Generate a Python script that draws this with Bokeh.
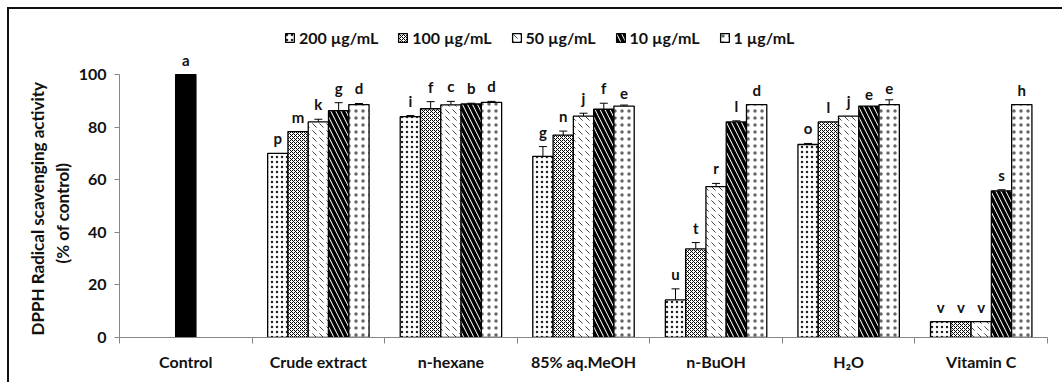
from bokeh.plotting import figure
from bokeh.layouts import column, row
from bokeh.models import Range1d, FixedTicker, Whisker, TeeHead, ColumnDataSource, Title, Div
from bokeh.core.properties import value
from bokeh.embed import file_html
from bokeh.resources import INLINE

# ---------------- data ----------------
categories = ["Control", "Crude extract", "n-hexane", "85% aq.MeOH", "n-BuOH", "H\u2082O", "Vitamin C"]
series = ["200 \u00b5g/mL", "100 \u00b5g/mL", "50 \u00b5g/mL", "10 \u00b5g/mL", "1 \u00b5g/mL"]

control_value = [100.0]
control_err = [0.0]
control_letter = ["a"]

# groups: Crude extract, n-hexane, 85% aq.MeOH, n-BuOH, H2O, Vitamin C
v200 = [70.0, 84.0, 68.9, 14.3, 73.4, 6.0]
e200 = [0.0, 0.4, 3.7, 4.2, 0.4, 0.0]
l200 = ["p", "i", "g", "u", "o", "v"]

v100 = [78.3, 87.0, 77.0, 33.7, 82.0, 6.0]
e100 = [0.0, 2.7, 1.5, 2.4, 0.0, 0.0]
l100 = ["m", "f", "n", "t", "l", "v"]

v50 = [82.0, 88.5, 84.2, 57.4, 84.2, 6.0]
e50 = [1.0, 1.3, 1.1, 1.2, 0.0, 0.0]
l50 = ["k", "c", "j", "r", "j", "v"]

v10 = [86.3, 88.8, 86.8, 82.0, 88.0, 55.8]
e10 = [3.0, 0.3, 2.3, 0.4, 0.0, 0.4]
l10 = ["g", "b", "f", "l", "e", "s"]

v1 = [88.6, 89.4, 88.0, 88.6, 88.6, 88.6]
e1 = [0.4, 0.4, 0.4, 0.0, 1.8, 0.0]
l1 = ["d", "d", "e", "d", "e", "h"]

y_ticks = [0, 20, 40, 60, 80, 100]
y_title = ["DPPH Radical scavenging activity", "(% of control)"]

values = [v200, v100, v50, v10, v1]
errors = [e200, e100, e50, e10, e1]
letters = [l200, l100, l50, l10, l1]

styles = [
    dict(hatch_pattern="dot", hatch_scale=5, hatch_weight=0.4, hatch_color="#222222"),
    dict(hatch_pattern="diagonal_cross", hatch_scale=4, hatch_weight=1, hatch_color="black"),
    dict(hatch_pattern="left_diagonal_dash", hatch_scale=7, hatch_weight=1, hatch_color="#444444"),
    dict(hatch_pattern="left_diagonal_line", hatch_scale=10, hatch_weight=3.5, hatch_color="black"),
    dict(hatch_pattern="dot", hatch_scale=7, hatch_weight=0.3, hatch_color="#666666"),
]

FONT = "Lato"
BW = 0.153
n_cat = len(categories)

p = figure(width=1053, height=373, output_backend="svg", toolbar_location=None,
           x_range=Range1d(0, n_cat), y_range=Range1d(0, 119.8),
           min_border_left=110, min_border_right=15, min_border_top=13, min_border_bottom=45,
           margin=0)
p.outline_line_color = None
p.xgrid.visible = False
p.ygrid.visible = False
p.background_fill_color = "white"

# control bar
csrc = ColumnDataSource(dict(x=[0.5], top=control_value, up=[a + b for a, b in zip(control_value, control_err)],
                             letter=control_letter))
p.vbar(x="x", top="top", width=BW, source=csrc, fill_color="black", line_color="black", line_width=1.3)
p.text(x="x", y="up", text="letter", source=csrc, text_font=value(FONT), text_font_style="bold",
       text_font_size="15px", text_align="center", text_baseline="bottom", y_offset=-6, text_color="#111111")

for k in range(5):
    off = (k - 2) * BW
    xs = [i + 1.5 + off for i in range(len(values[k]))]
    ups = [a + b for a, b in zip(values[k], errors[k])]
    src = ColumnDataSource(dict(x=xs, top=values[k], up=ups, letter=letters[k]))
    p.vbar(x="x", top="top", width=BW, source=src, fill_color="white", line_color="black",
           line_width=1.3, legend_label=series[k], **styles[k])
    idx = [i for i, e in enumerate(errors[k]) if e > 0]
    wsrc = ColumnDataSource(dict(x=[xs[i] for i in idx], lo=[values[k][i] for i in idx],
                                 up=[ups[i] for i in idx]))
    p.add_layout(Whisker(source=wsrc, base="x", upper="up", lower="lo", dimension="height",
                         line_color="black", line_width=1,
                         upper_head=TeeHead(size=8, line_color="black", line_width=1),
                         lower_head=None))
    p.text(x="x", y="up", text="letter", source=src, text_font=value(FONT), text_font_style="bold",
           text_font_size="15px", text_align="center", text_baseline="bottom", y_offset=-6,
           text_color="#111111")

# y axis
ya = p.yaxis[0]
ya.bounds = (0, 100)
ya.ticker = FixedTicker(ticks=y_ticks)
ya.axis_line_color = "#868686"
ya.major_tick_line_color = "#868686"
ya.major_tick_out = 5
ya.major_tick_in = 0
ya.minor_tick_line_color = None
ya.major_label_text_font = FONT
ya.major_label_text_font_style = "bold"
ya.major_label_text_font_size = "16px"
ya.major_label_text_color = "#111111"
ya.major_label_standoff = 8

# y axis title (two lines, as left-side titles)
p.add_layout(Title(text=y_title[1], align="left", offset=74, standoff=5, text_font=FONT,
                   text_font_style="bold", text_font_size="17px", text_color="#111111"), "left")
p.add_layout(Title(text=y_title[0], align="left", offset=2, standoff=0, text_font=FONT,
                   text_font_style="bold", text_font_size="17px", text_color="#111111"), "left")

# x axis
xa = p.xaxis[0]
xa.bounds = (0, n_cat)
centers = [i + 0.5 for i in range(n_cat)]
xa.ticker = FixedTicker(ticks=centers, minor_ticks=list(range(n_cat + 1)))
xa.major_label_overrides = {c: lab for c, lab in zip(centers, categories)}
xa.axis_line_color = "#868686"
xa.major_tick_out = 0
xa.major_tick_in = 0
xa.major_tick_line_color = None
xa.minor_tick_line_color = "#868686"
xa.minor_tick_out = 6
xa.minor_tick_in = 0
xa.major_label_text_font = FONT
xa.major_label_text_font_style = "bold"
xa.major_label_text_font_size = "16px"
xa.major_label_text_color = "#111111"
xa.major_label_standoff = 8

# legend
lg = p.legend[0]
lg.orientation = "horizontal"
lg.location = (165, 290)
lg.border_line_color = None
lg.background_fill_alpha = 0
lg.padding = 0
lg.margin = 0
lg.spacing = 19
lg.label_standoff = 4
lg.glyph_width = 11
lg.glyph_height = 11
lg.label_text_font = FONT
lg.label_text_font_style = "bold"
lg.label_text_font_size = "16px"
lg.label_text_color = "#111111"

# outer chart border along the left and top edges (offsets carried by inner margins)
top_edge = Div(text="", width=1055, height=2, margin=(7, 0, 0, 7), styles={"background-color": "#111111"})
left_edge = Div(text="", width=2, height=373, margin=(0, 0, 0, 7), styles={"background-color": "#111111"})
layout = column(top_edge, row(left_edge, p, spacing=0, margin=0), spacing=0, margin=0)

open("out.html", "w").write(file_html(layout, INLINE))
